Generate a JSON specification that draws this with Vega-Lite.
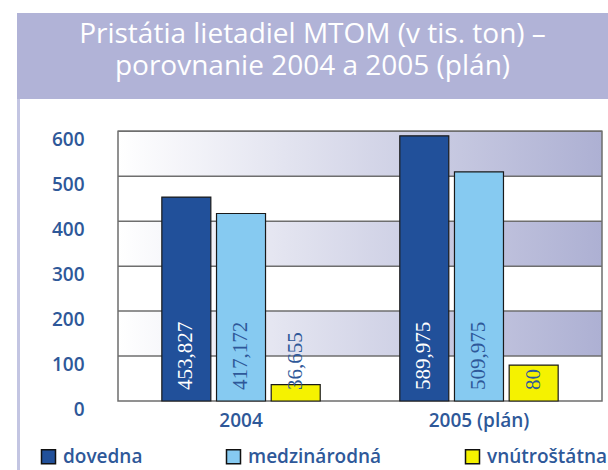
{
  "$schema": "https://vega.github.io/schema/vega-lite/v6.json",
  "padding": {"left": 17, "top": 13, "right": 0, "bottom": 0},
  "background": "white",
  "config": {"font": "Open Sans"},
  "spacing": 0,
  "datasets": {
    "bars": [
      {"year": "2004", "cat": "dovedna", "value": 453.827, "label": "453,827"},
      {"year": "2004", "cat": "medzinárodná", "value": 417.172, "label": "417,172"},
      {"year": "2004", "cat": "vnútroštátna", "value": 36.655, "label": "36,655"},
      {"year": "2005 (plán)", "cat": "dovedna", "value": 589.975, "label": "589,975"},
      {"year": "2005 (plán)", "cat": "medzinárodná", "value": 509.975, "label": "509,975"},
      {"year": "2005 (plán)", "cat": "vnútroštátna", "value": 80, "label": "80"}
    ],
    "bands": [
      {"from": 100, "to": 200},
      {"from": 300, "to": 400},
      {"from": 500, "to": 600}
    ]
  },
  "vconcat": [
    {
      "width": 591,
      "height": 86,
      "view": {"fill": "#B1B3D7", "stroke": null},
      "data": {"values": [{}]},
      "mark": {
        "type": "text",
        "text": ["Pristátia lietadiel MTOM (v tis. ton) –", "porovnanie 2004 a 2005 (plán)"],
        "font": "Open Sans",
        "fontWeight": 500,
        "fontSize": 28,
        "color": "#FFFFFF",
        "lineHeight": 32,
        "baseline": "alphabetic",
        "align": "center",
        "dy": -13
      },
      "encoding": {}
    },
    {
      "spacing": 0,
      "hconcat": [
        {
          "width": 3,
          "height": 371,
          "view": {"fill": "#C3C5E2", "stroke": null},
          "data": {"values": [{}]},
          "mark": {"type": "text", "text": ""},
          "encoding": {}
        },
        {
          "width": 484,
          "height": 302,
          "view": {"stroke": null},
          "layer": [
            {
              "data": {"name": "bands"},
              "mark": {
                "type": "rect",
                "fill": {
                  "gradient": "linear",
                  "x1": 0, "y1": 0, "x2": 1, "y2": 0,
                  "stops": [
                    {"offset": 0, "color": "#FFFFFF"},
                    {"offset": 1, "color": "#ADB0D3"}
                  ]
                }
              },
              "encoding": {
                "y": {"field": "from", "type": "quantitative", "scale": {"domain": [0, 672], "nice": false}},
                "y2": {"field": "to"}
              }
            },
            {
              "data": {"name": "bands"},
              "mark": {"type": "rule", "color": "#6E6E6E", "strokeWidth": 1.5},
              "encoding": {"y": {"field": "from", "type": "quantitative"}}
            },
            {
              "data": {"name": "bands"},
              "mark": {"type": "rule", "color": "#6E6E6E", "strokeWidth": 1.5},
              "encoding": {"y": {"field": "to", "type": "quantitative"}}
            },
            {
              "data": {"values": [{}]},
              "mark": {"type": "rect", "fill": null, "stroke": "#6E6E6E", "strokeWidth": 1.5},
              "encoding": {
                "y": {"datum": 0, "type": "quantitative"},
                "y2": {"datum": 600}
              }
            },
            {
              "data": {"name": "bars"},
              "mark": {"type": "bar", "stroke": "#1A1A1A", "strokeWidth": 1.2},
              "encoding": {
                "x": {
                  "field": "year", "type": "nominal", "sort": null,
                  "scale": {"paddingInner": 0, "paddingOuter": 0.017},
                  "axis": {
                    "title": null, "domain": false, "ticks": false, "labelAngle": 0,
                    "labelPadding": 10, "labelFontSize": 19, "labelFontWeight": 600,
                    "labelColor": "#2E5899", "labelBaseline": "top"
                  }
                },
                "xOffset": {
                  "field": "cat", "sort": ["dovedna", "medzinárodná", "vnútroštátna"],
                  "scale": {"paddingInner": 0.104, "paddingOuter": 0.7275}
                },
                "y": {
                  "field": "value", "type": "quantitative",
                  "axis": {
                    "title": null, "values": [0, 100, 200, 300, 400, 500, 600],
                    "grid": false, "domain": false, "ticks": false,
                    "labelPadding": 34, "labelFontSize": 19, "labelFontWeight": 600,
                    "labelColor": "#2E5899", "labelOffset": 8, "minExtent": 98
                  }
                },
                "color": {
                  "field": "cat", "type": "nominal",
                  "scale": {
                    "domain": ["dovedna", "medzinárodná", "vnútroštátna"],
                    "range": ["#21509A", "#86CAF1", "#F5F200"]
                  },
                  "legend": {
                    "title": null, "orient": "none", "legendX": 22, "legendY": 434,
                    "direction": "horizontal", "symbolType": "square", "symbolSize": 196,
                    "symbolStrokeColor": "#111111", "symbolStrokeWidth": 1.5,
                    "labelFont": "Open Sans",
                    "labelFontSize": 19, "labelFontWeight": 600, "labelColor": "#2E5899",
                    "columnPadding": 80, "labelOffset": 5, "labelLimit": 300, "symbolOpacity": 1
                  }
                }
              }
            },
            {
              "data": {"name": "bars"},
              "mark": {
                "type": "text", "angle": 270, "align": "left", "baseline": "middle",
                "dx": 11, "font": "Liberation Serif", "fontSize": 21
              },
              "encoding": {
                "x": {"field": "year", "type": "nominal", "sort": null},
                "xOffset": {"field": "cat", "sort": ["dovedna", "medzinárodná", "vnútroštátna"]},
                "y": {"datum": 0, "type": "quantitative"},
                "text": {"field": "label"},
                "color": {
                  "condition": {"test": "datum.cat === 'dovedna'", "value": "#FFFFFF"},
                  "value": "#2E5899"
                }
              }
            }
          ]
        }
      ]
    }
  ]
}
